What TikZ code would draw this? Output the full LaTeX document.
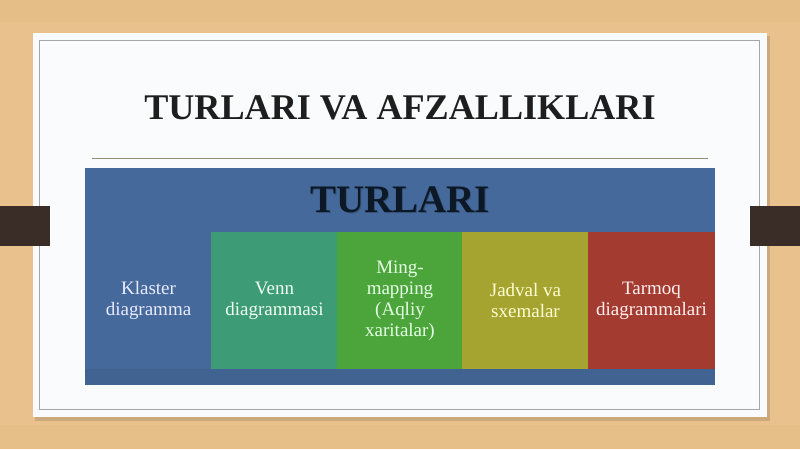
\documentclass[tikz,border=0pt]{standalone}
\usepackage{fontspec}
\setmainfont{Liberation Serif}
\usepackage{tikz}
\usetikzlibrary{positioning}
\definecolor{woodc}{HTML}{E8C18C}
\definecolor{cardc}{HTML}{FAFBFC}
\definecolor{tabc}{HTML}{3A2D27}
\definecolor{panelc}{HTML}{44699A}
\definecolor{tealc}{HTML}{3D9B76}
\definecolor{greenc}{HTML}{4CA53B}
\definecolor{olivec}{HTML}{A5A431}
\definecolor{redc}{HTML}{A43B30}
\definecolor{inkc}{HTML}{1E1E1E}
\definecolor{navyc}{HTML}{0C1826}
\tikzset{
	typebox/.style={minimum width=3.15cm, minimum height=3.425cm, inner sep=0pt, align=center,
		font={\fontsize{13.5}{15}\selectfont}},
	tabbox/.style={fill=tabc, minimum width=1.25cm, minimum height=1cm, inner sep=0pt}
}

\begin{document}
\begin{tikzpicture}[x=0.025cm,y=-0.025cm]
			\useasboundingbox (0,0) rectangle (800,449);
			\fill [woodc] (0,0) rectangle (800,449);
			\fill [woodc!85!brown, opacity=0.4] (0,0) rectangle (800,22);
			\fill [woodc!90!brown, opacity=0.4] (0,425) rectangle (800,449);
			% card
			\fill [black, opacity=0.12] (35,36) rectangle (770,421);
			\fill [cardc] (33,33) rectangle (767,417);
			\draw [gray!70, line width=0.5pt] (39.5,40) rectangle (759,409);
			\node [tabbox] (tabL) at (25,226) {};
			\node [tabbox] (tabR) at (775,226) {};
			% heading
			\node [text=inkc, font={\fontsize{25.7}{30}\selectfont\bfseries}] (title) at (400,108) {TURLARI VA AFZALLIKLARI};
			\coordinate (ruleL) at (92,158);
			\coordinate (ruleR) at (708,158);
			\draw [gray!80!olive, line width=0.6pt] (ruleL) -- (ruleR);
			% panel
			\fill [panelc] (85,168) rectangle (715,385);
			\fill [panelc!94!black] (85,369) rectangle (715,385);
			\node [text=black, opacity=0.22, font={\fontsize{27.7}{32}\selectfont\bfseries}] (headShadow) at (401,201) {TURLARI};
			\node [text=navyc, font={\fontsize{27.7}{32}\selectfont\bfseries}] (head) at (400,200) {TURLARI};
			% types
			\node [typebox, fill=panelc, text=blue!8!white] (klaster) at (148.5,300.5) {Klaster\\diagramma};
			\node [typebox, fill=tealc, text=green!6!white] (venn) at (274.5,300.5) {Venn\\diagrammasi};
			\node [typebox, fill=greenc, text=green!10!white] (ming) at (400,300.5) {Ming-\\mapping\\(Aqliy\\xaritalar)};
			\node [typebox, fill=olivec, text=yellow!18!white] (jadval) at (525.5,300.5) {Jadval va\\sxemalar};
			\node [typebox, fill=redc, text=red!6!white] (tarmoq) at (651.5,300.5) {Tarmoq\\diagrammalari};
\end{tikzpicture}
\end{document}
